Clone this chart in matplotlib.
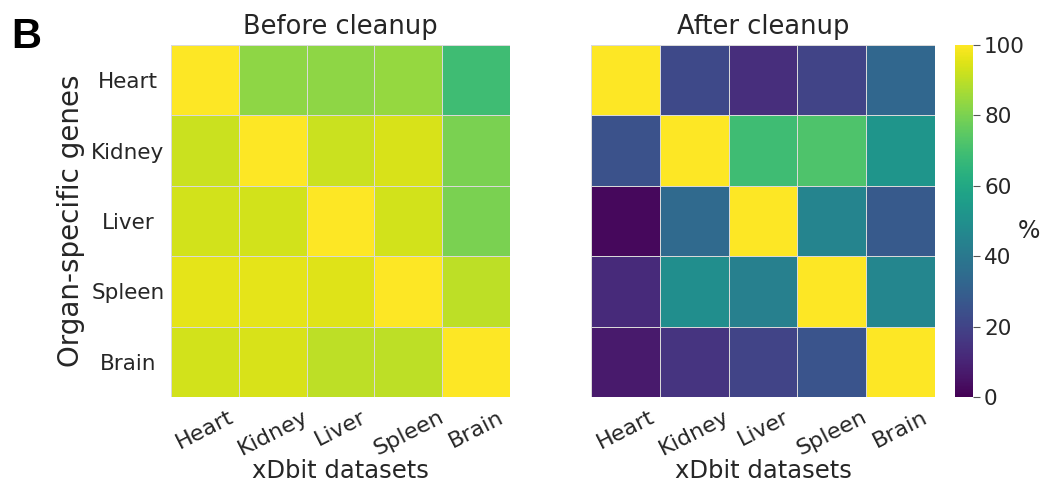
import numpy as np
import matplotlib.pyplot as plt

organs = ["Heart", "Kidney", "Liver", "Spleen", "Brain"]

# rows: organ-specific genes, columns: xDbit datasets (percent)
before_cleanup = [
    [100, 83, 83, 84, 69],
    [92, 100, 92, 94, 80],
    [93, 93, 100, 93, 80],
    [96, 96, 95, 100, 90],
    [93, 94, 90, 90, 100],
]
after_cleanup = [
    [100, 22, 13, 20, 33],
    [25, 100, 69, 72, 52],
    [2, 34, 100, 45, 28],
    [12, 49, 43, 100, 46],
    [7, 15, 20, 26, 100],
]

plt.rcParams['font.family'] = ['DejaVu Sans']
text_color = '#262626'

fig = plt.figure(figsize=(10.46, 4.9), dpi=100)
W, H = 1046, 490
ax1 = fig.add_axes([171 / W, (H - 397) / H, 339 / W, 352 / H])
ax2 = fig.add_axes([591 / W, (H - 397) / H, 344 / W, 352 / H])
cax = fig.add_axes([955 / W, (H - 397) / H, 18 / W, 352 / H])


def draw(ax, data, title):
    arr = np.array(data, dtype=float)
    mesh = ax.pcolormesh(arr, cmap='viridis', vmin=0, vmax=100,
                         edgecolors='#d9d9d9', linewidth=0.4)
    ax.set_xlim(0, arr.shape[1])
    ax.set_ylim(arr.shape[0], 0)
    ticks = np.arange(len(organs)) + 0.5
    ax.set_xticks(ticks)
    ax.set_xticklabels(organs, rotation=27, ha='center', fontsize=16,
                       color=text_color)
    ax.set_yticks(ticks)
    ax.tick_params(axis='x', length=0, pad=7)
    ax.tick_params(axis='y', length=0, pad=31)
    ax.set_xlabel("xDbit datasets", fontsize=17.5, color=text_color, labelpad=0)
    ax.set_title(title, fontsize=18.5, color=text_color, pad=8)
    for s in ax.spines.values():
        s.set_visible(False)
    return mesh


draw(ax1, before_cleanup, "Before cleanup")
ax1.set_yticklabels(organs, fontsize=15.5, color=text_color, ha='center')
ax1.set_ylabel("Organ-specific genes", fontsize=20, color=text_color)
ax1.yaxis.set_label_coords(-0.255, 0.5)

mesh = draw(ax2, after_cleanup, "After cleanup")
ax2.set_yticklabels([])

cb = fig.colorbar(mesh, cax=cax, ticks=[0, 20, 40, 60, 80, 100])
cb.outline.set_visible(False)
cb.ax.tick_params(labelsize=15.5, labelcolor=text_color, color='#555555',
                  length=5, width=0.8, pad=3)
fig.text(1029 / W, 1 - 231 / H, "%", fontsize=17, color=text_color,
         ha='center', va='center')

fig.text(11 / W, 1 - 48 / H, "B", fontsize=30, fontweight='bold', color='black',
         family='Liberation Sans', va='baseline')

fig.savefig("out.png", dpi=100)
